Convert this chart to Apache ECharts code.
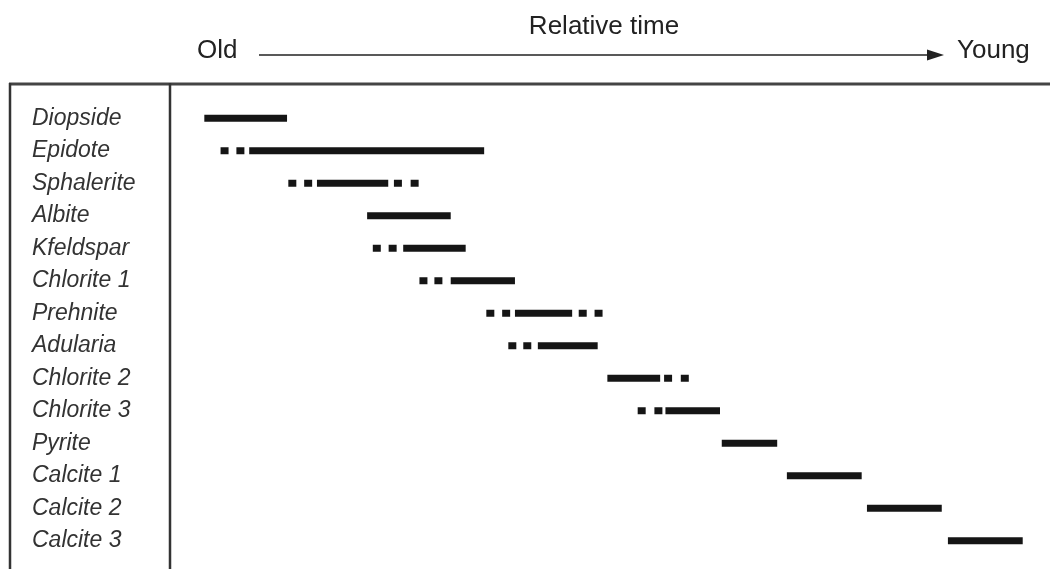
<!DOCTYPE html>
<html>
<head>
<meta charset="utf-8">
<script src="https://cdn.jsdelivr.net/npm/echarts@6/dist/echarts.min.js"></script>
<style>
html,body{margin:0;padding:0;background:#fff;}
#chart{width:1050px;height:569px;}
</style>
</head>
<body>
<div id="chart"></div>
<script>
// Minerals (top to bottom)
const minerals = ['Diopside','Epidote','Sphalerite','Albite','Kfeldspar','Chlorite 1','Prehnite','Adularia','Chlorite 2','Chlorite 3','Pyrite','Calcite 1','Calcite 2','Calcite 3'];
// Relative time (0 = old, 100 = young): solid (certain) interval
const solidStart = [3.9, 9.0, 16.7, 22.4, 26.5, 31.9, 39.2, 41.8, 49.7, 56.3, 62.7, 70.1, 79.2, 88.4];
const solidEnd   = [13.3, 35.7, 24.8, 31.9, 33.6, 39.2, 45.7, 48.6, 55.7, 62.5, 69.0, 78.6, 87.7, 96.9];
// Uncertain (dotted) extensions, dot positions
const dotsLeading  = [[], [6.2, 8.0], [13.9, 15.7], [], [23.5, 25.3], [28.8, 30.5], [36.4, 38.2], [38.9, 40.6], [], [53.6, 55.5], [], [], [], []];
const dotsTrailing = [[], [], [25.9, 27.8], [], [], [], [46.9, 48.7], [], [56.6, 58.5], [], [], [], [], []];

const solidData = minerals.map((m, i) => [i, solidStart[i], solidEnd[i]]);
const dotData = [];
minerals.forEach((m, i) => {
  dotsLeading[i].forEach(x => dotData.push([x, i]));
  dotsTrailing[i].forEach(x => dotData.push([x, i]));
});

const chart = echarts.init(document.getElementById('chart'), null, {renderer: 'canvas'});
const FONT = '"Liberation Sans", Arial, sans-serif';
const option = {
  backgroundColor: '#ffffff',
  animation: false,
  grid: {left: 170, right: 0, top: 102, bottom: 12, containLabel: false},
  xAxis: {
    type: 'value', min: 0, max: 100,
    show: false
  },
  yAxis: {
    type: 'category', data: minerals, inverse: true,
    axisLine: {show: false}, axisTick: {show: false}, splitLine: {show: false},
    axisLabel: {
      align: 'left', margin: 138,
      fontFamily: FONT, fontStyle: 'italic', fontSize: 23, color: '#333'
    }
  },
  series: [
    {
      type: 'custom',
      data: solidData,
      encode: {x: [1, 2], y: 0},
      renderItem: function (params, api) {
        const row = api.value(0);
        const p0 = api.coord([api.value(1), row]);
        const p1 = api.coord([api.value(2), row]);
        const h = 7;
        return {
          type: 'rect',
          shape: {x: p0[0], y: p0[1] - h / 2, width: p1[0] - p0[0], height: h},
          style: {fill: '#151515'}
        };
      }
    },
    {
      type: 'scatter',
      data: dotData,
      symbol: 'rect',
      symbolSize: [8, 7],
      itemStyle: {color: '#151515', opacity: 1}
    }
  ],
  graphic: [
    {type: 'line', shape: {x1: 9, y1: 84, x2: 1050, y2: 84}, style: {stroke: '#444', lineWidth: 3}},
    {type: 'line', shape: {x1: 10, y1: 83, x2: 10, y2: 569}, style: {stroke: '#333', lineWidth: 2.5}},
    {type: 'line', shape: {x1: 170, y1: 83, x2: 170, y2: 569}, style: {stroke: '#333', lineWidth: 2.5}},
    {type: 'text', x: 604, y: 27, style: {text: 'Relative time', font: '26px ' + FONT, fill: '#222', textAlign: 'center', textVerticalAlign: 'middle'}},
    {type: 'text', x: 197, y: 51, style: {text: 'Old', font: '26px ' + FONT, fill: '#222', textAlign: 'left', textVerticalAlign: 'middle'}},
    {type: 'text', x: 957, y: 51, style: {text: 'Young', font: '26px ' + FONT, fill: '#222', textAlign: 'left', textVerticalAlign: 'middle'}},
    {type: 'line', shape: {x1: 259, y1: 55, x2: 932, y2: 55}, style: {stroke: '#222', lineWidth: 1.5}},
    {type: 'polygon', shape: {points: [[927, 49.5], [944, 55], [927, 60.5]]}, style: {fill: '#222'}}
  ]
};
chart.setOption(option);
</script>
</body>
</html>
